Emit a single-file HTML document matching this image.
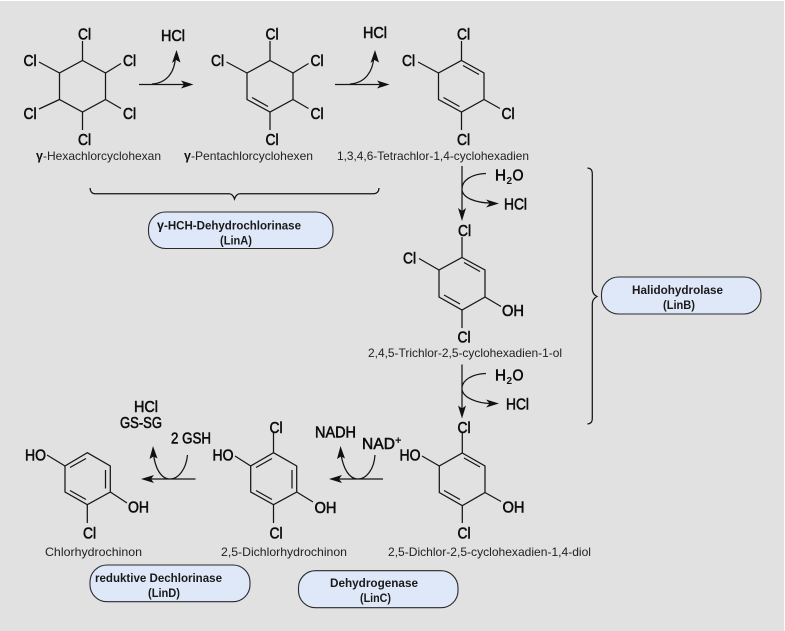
<!DOCTYPE html>
<html><head><meta charset="utf-8"><style>
html,body{margin:0;padding:0;background:#e1e1e1}
svg{display:block}
.b{fill:none;stroke:#161616;stroke-width:1.25}
.a{fill:#111;stroke:none}
.l{font-family:"Liberation Sans",sans-serif;font-size:15.5px;fill:#0c0c0c;stroke:#0c0c0c;stroke-width:.55}
.c{font-family:"Liberation Sans",sans-serif;font-size:12px;fill:#222}
.e{font-family:"Liberation Sans",sans-serif;font-size:11.5px;font-weight:bold;fill:#1a1a1a}
.box{fill:#dfe8f8;stroke:#2a2a2a;stroke-width:1.1}
</style></head><body>
<svg width="785" height="631" viewBox="0 0 785 631" xmlns="http://www.w3.org/2000/svg">
<rect width="785" height="631" fill="#e1e1e1"/>
<rect width="785" height="1" fill="#fff"/>
<rect x="784" width="1" height="631" fill="#fff"/>

<!-- Ring 1 -->
<g class="b">
<path d="M82.5 60.5L105.5 73V99.5L82.5 112L59.5 99.5V73Z"/>
<path d="M82.5 60.5V41M59.5 73L39 62M105.5 73L121 63.5M105.5 99.5L121 108.5M59.5 99.5L39 109M82.5 112V130"/>
</g>
<text class="l" x="78" y="39.5" textLength="13" lengthAdjust="spacingAndGlyphs">Cl</text>
<text class="l" x="23.5" y="66" textLength="13" lengthAdjust="spacingAndGlyphs">Cl</text>
<text class="l" x="123" y="66" textLength="13" lengthAdjust="spacingAndGlyphs">Cl</text>
<text class="l" x="23.5" y="119" textLength="13" lengthAdjust="spacingAndGlyphs">Cl</text>
<text class="l" x="123" y="119" textLength="13" lengthAdjust="spacingAndGlyphs">Cl</text>
<text class="l" x="78" y="145" textLength="13" lengthAdjust="spacingAndGlyphs">Cl</text>

<!-- Ring 2 -->
<g class="b">
<path d="M270 60.5L293 73V99.5L270 112L247 99.5V73Z"/>
<path d="M252 97.5L268 106.5"/>
<path d="M270 60.5V41M247 73L226.5 62M293 73L308.5 63.5M293 99.5L308.5 108.5M270 112V130"/>
</g>
<text class="l" x="265.5" y="39.5" textLength="13" lengthAdjust="spacingAndGlyphs">Cl</text>
<text class="l" x="211" y="66" textLength="13" lengthAdjust="spacingAndGlyphs">Cl</text>
<text class="l" x="310.5" y="66" textLength="13" lengthAdjust="spacingAndGlyphs">Cl</text>
<text class="l" x="310.5" y="119" textLength="13" lengthAdjust="spacingAndGlyphs">Cl</text>
<text class="l" x="265.5" y="145" textLength="13" lengthAdjust="spacingAndGlyphs">Cl</text>

<!-- Ring 3 -->
<g class="b">
<path d="M461.5 60.5L484 73V99.5L461.5 112L438.5 99.5V73Z"/>
<path d="M463 65.5L479 74.5M443.5 97.5L459.5 106.5"/>
<path d="M461.5 60.5V41M438.5 73L418 62M484 99.5L500 108.5M461.5 112V130"/>
</g>
<text class="l" x="457" y="39.5" textLength="13" lengthAdjust="spacingAndGlyphs">Cl</text>
<text class="l" x="402" y="66" textLength="13" lengthAdjust="spacingAndGlyphs">Cl</text>
<text class="l" x="501.5" y="119" textLength="13" lengthAdjust="spacingAndGlyphs">Cl</text>
<text class="l" x="457" y="145" textLength="13" lengthAdjust="spacingAndGlyphs">Cl</text>

<!-- Ring 4 -->
<g class="b">
<path d="M462 257.5L485 270V297L462 310L439 297V270Z"/>
<path d="M464 262.5L480 271.5M444 295L460 304"/>
<path d="M462 257.5V237M439 270L419 258.5M485 297L501 306.5M462 310V328"/>
</g>
<text class="l" x="458" y="236" textLength="13" lengthAdjust="spacingAndGlyphs">Cl</text>
<text class="l" x="403" y="263.5" textLength="13" lengthAdjust="spacingAndGlyphs">Cl</text>
<text class="l" x="502" y="316" textLength="22" lengthAdjust="spacingAndGlyphs">OH</text>
<text class="l" x="457.5" y="342.5" textLength="13" lengthAdjust="spacingAndGlyphs">Cl</text>

<!-- Ring 5 -->
<g class="b">
<path d="M462.3 453L485 466V492.5L462.3 505.7L439.3 492.5V466Z"/>
<path d="M464 458L480 467M444 490.5L460 499.5"/>
<path d="M462.3 453V432M439.3 466L422 456M485 492.5L501 501.5M462.3 505.7V523"/>
</g>
<text class="l" x="457.5" y="433" textLength="13" lengthAdjust="spacingAndGlyphs">Cl</text>
<text class="l" x="399.5" y="460.5" textLength="21" lengthAdjust="spacingAndGlyphs">HO</text>
<text class="l" x="502.5" y="512.5" textLength="22" lengthAdjust="spacingAndGlyphs">OH</text>
<text class="l" x="457.5" y="538.5" textLength="13" lengthAdjust="spacingAndGlyphs">Cl</text>

<!-- Ring 6 -->
<g class="b">
<path d="M273.5 452.7L296.7 466V492L273.5 504.7L250.7 492V466Z"/>
<path d="M256 467.5L272 458.5M292 470V488.5M256 490.5L272 499.5"/>
<path d="M273.5 452.7V432M250.7 466L235 456M296.7 492L313 502M273.5 504.7V523"/>
</g>
<text class="l" x="269.5" y="433" textLength="13" lengthAdjust="spacingAndGlyphs">Cl</text>
<text class="l" x="212.5" y="460.5" textLength="21" lengthAdjust="spacingAndGlyphs">HO</text>
<text class="l" x="314.5" y="513" textLength="22" lengthAdjust="spacingAndGlyphs">OH</text>
<text class="l" x="269.5" y="538.5" textLength="13" lengthAdjust="spacingAndGlyphs">Cl</text>

<!-- Ring 7 -->
<g class="b">
<path d="M87.3 452.7L110.3 466V492L87.3 504.7L65 492V466Z"/>
<path d="M70 467.5L86 458.5M105.5 470V488.5M70 490.5L86 499.5"/>
<path d="M65 466L47 455M110.3 492L127 503M87.3 504.7V523"/>
</g>
<text class="l" x="25" y="460.5" textLength="21" lengthAdjust="spacingAndGlyphs">HO</text>
<text class="l" x="128" y="512.5" textLength="21" lengthAdjust="spacingAndGlyphs">OH</text>
<text class="l" x="83" y="538.5" textLength="13" lengthAdjust="spacingAndGlyphs">Cl</text>

<!-- Top arrows -->
<path class="b" d="M139 84.5H186M152 84C167 83 175 72 175.5 56"/>
<path class="a" d="M193.5 84.5L181 80.5L184 84.5L181 88.5ZM176.5 50L172 63L176 60L180.5 62.5Z"/>
<path class="b" d="M335 84.5H382M350 84C365 83 373 72 374 56"/>
<path class="a" d="M389.5 84.5L377 80.5L380 84.5L377 88.5ZM375 50L370.5 63L374.5 60L379 62.5Z"/>
<text class="l" x="161" y="41" textLength="24" lengthAdjust="spacingAndGlyphs">HCl</text>
<text class="l" x="363" y="38" textLength="24" lengthAdjust="spacingAndGlyphs">HCl</text>

<!-- Vertical arrows -->
<path class="b" d="M462 166V214M486 173.5C472 174 462 180 462 189C462 198 476 203 492 203"/>
<path class="a" d="M462 221L458 208L462 211L466 208ZM499 203.5L486 199.5L489.5 203.5L486 207.5Z"/>
<text class="l" x="495" y="180.5" textLength="11" lengthAdjust="spacingAndGlyphs">H</text>
<text x="506.5" y="184" font-family="Liberation Sans,sans-serif" font-size="10" font-weight="bold" fill="#111">2</text>
<text class="l" x="512.5" y="180.5" textLength="11" lengthAdjust="spacingAndGlyphs">O</text>
<text class="l" x="504" y="209.5" textLength="23" lengthAdjust="spacingAndGlyphs">HCl</text>

<path class="b" d="M462 364.5V412M486 373.5C472 374 462 380 462 388.5C462 397 476 403.5 492 403.5"/>
<path class="a" d="M462 418.5L458 405.5L462 408.5L466 405.5ZM499 403.5L486 399.5L489.5 403.5L486 407.5Z"/>
<text class="l" x="495" y="380.5" textLength="11" lengthAdjust="spacingAndGlyphs">H</text>
<text x="506.5" y="384" font-family="Liberation Sans,sans-serif" font-size="10" font-weight="bold" fill="#111">2</text>
<text class="l" x="512.5" y="380.5" textLength="11" lengthAdjust="spacingAndGlyphs">O</text>
<text class="l" x="506" y="409.5" textLength="23" lengthAdjust="spacingAndGlyphs">HCl</text>

<!-- Bottom arrows -->
<path class="b" d="M195.5 479H148M187.5 455C186 470 178 479 170 479C161 479 155 468 153.5 454"/>
<path class="a" d="M141 479L154 475L151 479L154 483ZM153 446L149.5 459L153.5 456.5L157.5 458.5Z"/>
<path class="b" d="M383 479H336M375 455C374 470 366 479 358 479C349 479 343 468 341 454"/>
<path class="a" d="M329 479L342 475L339 479L342 483ZM340.5 446L337 459L341 456.5L345 458.5Z"/>
<text class="l" x="134" y="412" textLength="24" lengthAdjust="spacingAndGlyphs">HCl</text>
<text class="l" x="120" y="428" textLength="42" lengthAdjust="spacingAndGlyphs">GS-SG</text>
<text class="l" x="171" y="443.5" textLength="40" lengthAdjust="spacingAndGlyphs">2 GSH</text>
<text class="l" x="315" y="437.5" textLength="41" lengthAdjust="spacingAndGlyphs">NADH</text>
<text class="l" x="362" y="449" textLength="33" lengthAdjust="spacing">NAD</text>
<text x="395" y="444" font-family="Liberation Sans,sans-serif" font-size="11" font-weight="bold" fill="#111">+</text>

<!-- Braces -->
<path class="b" d="M90 188C90.5 192 92 193.8 96 193.8H229C232 193.8 233.5 196 234.5 199C235.5 196 237 193.8 240 193.8H373C377 193.8 378.8 192 379 188"/>
<path class="b" d="M587.5 168C591 168.5 592.3 170 592.3 174V289C592.3 293 594 295 597 296.5C594 298 592.3 300 592.3 304V418C592.3 422 591 423.5 587.5 424"/>

<!-- Captions -->
<text x="36" y="160" font-family="Liberation Sans,sans-serif" font-size="12.5" font-weight="bold" fill="#111">γ</text>
<text class="c" x="43" y="160" textLength="118" lengthAdjust="spacingAndGlyphs">-Hexachlorcyclohexan</text>
<text x="184" y="160" font-family="Liberation Sans,sans-serif" font-size="12.5" font-weight="bold" fill="#111">γ</text>
<text class="c" x="191" y="160" textLength="122" lengthAdjust="spacingAndGlyphs">-Pentachlorcyclohexen</text>
<text class="c" x="337" y="160" textLength="192" lengthAdjust="spacingAndGlyphs">1,3,4,6-Tetrachlor-1,4-cyclohexadien</text>
<text class="c" x="368" y="357" textLength="194" lengthAdjust="spacingAndGlyphs">2,4,5-Trichlor-2,5-cyclohexadien-1-ol</text>
<text class="c" x="45" y="556" textLength="97" lengthAdjust="spacingAndGlyphs">Chlorhydrochinon</text>
<text class="c" x="221" y="556" textLength="126" lengthAdjust="spacingAndGlyphs">2,5-Dichlorhydrochinon</text>
<text class="c" x="388" y="556" textLength="203" lengthAdjust="spacingAndGlyphs">2,5-Dichlor-2,5-cyclohexadien-1,4-diol</text>

<!-- Enzyme boxes -->
<rect class="box" x="148.5" y="212" width="184.5" height="36.5" rx="17" ry="17"/>
<text x="157" y="229.5" font-family="Liberation Sans,sans-serif" font-size="12.5" font-weight="bold" fill="#111">γ</text>
<text class="e" x="164" y="229.5" textLength="137" lengthAdjust="spacingAndGlyphs">-HCH-Dehydrochlorinase</text>
<text class="e" x="220" y="244.5" textLength="32" lengthAdjust="spacingAndGlyphs">(LinA)</text>

<rect class="box" x="601.5" y="277" width="159.5" height="37" rx="17" ry="17"/>
<text class="e" x="632" y="294" textLength="91" lengthAdjust="spacingAndGlyphs">Halidohydrolase</text>
<text class="e" x="663" y="309" textLength="32" lengthAdjust="spacingAndGlyphs">(LinB)</text>

<rect class="box" x="90" y="565" width="160" height="36.7" rx="17" ry="17"/>
<text class="e" x="95" y="582" textLength="127" lengthAdjust="spacingAndGlyphs">reduktive Dechlorinase</text>
<text class="e" x="148" y="597" textLength="32" lengthAdjust="spacingAndGlyphs">(LinD)</text>

<rect class="box" x="298.5" y="570.7" width="159.5" height="37" rx="17" ry="17"/>
<text class="e" x="330" y="587" textLength="88" lengthAdjust="spacingAndGlyphs">Dehydrogenase</text>
<text class="e" x="360" y="602" textLength="31" lengthAdjust="spacingAndGlyphs">(LinC)</text>
</svg>
</body></html>
